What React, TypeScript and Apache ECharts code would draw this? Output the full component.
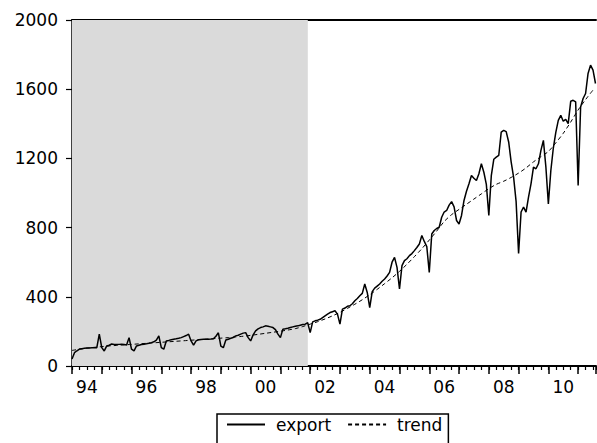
import React, { useEffect, useRef } from "react";
import * as echarts from "echarts";

// Monthly exports, 1994M1 .. 2011M8
const START_YEAR = 1994;
const EXPORT_1994_1997 = [
  40, 77, 88, 98, 100, 102, 104, 104, 105, 106, 106, 184,
  106, 87, 116, 120, 127, 125, 124, 125, 126, 124, 122, 164,
  97, 87, 116, 120, 124, 126, 128, 131, 135, 140, 150, 174,
  106, 97, 145, 148, 152, 155, 157, 160, 164, 170, 176, 184,
];
const EXPORT_1998_2001 = [
  145, 120, 145, 152, 153, 154, 155, 155, 156, 158, 172, 192,
  115, 106, 150, 155, 160, 165, 174, 178, 184, 190, 193, 164,
  145, 180, 203, 215, 222, 226, 232, 230, 226, 222, 210, 184,
  164, 213, 215, 218, 222, 226, 230, 232, 236, 240, 242, 250,
];
const EXPORT_2002_2005 = [
  193, 255, 261, 265, 270, 280, 290, 300, 309, 314, 319, 300,
  242, 329, 335, 345, 348, 360, 377, 390, 406, 420, 474, 425,
  338, 430, 450, 462, 474, 490, 503, 520, 541, 600, 628, 570,
  445, 580, 609, 620, 638, 650, 667, 685, 705, 754, 720, 690,
];
const EXPORT_2006_2009 = [
  541, 763, 783, 795, 802, 860, 890, 899, 930, 950, 920, 841,
  821, 870, 957, 1010, 1053, 1101, 1085, 1072, 1111, 1169, 1120, 1050,
  870, 1100, 1195, 1207, 1217, 1352, 1362, 1355, 1295, 1180, 1090, 950,
  650, 890, 918, 889, 976, 1053, 1150, 1140, 1169, 1246, 1304, 1150,
];
const EXPORT_2010_2011 = [
  937, 1130, 1260, 1350, 1420, 1449, 1415, 1425, 1401, 1530, 1536, 1527,
  1043, 1497, 1546, 1575, 1691, 1739, 1710, 1633,
];
const EXPORT = [
  ...EXPORT_1994_1997,
  ...EXPORT_1998_2001,
  ...EXPORT_2002_2005,
  ...EXPORT_2006_2009,
  ...EXPORT_2010_2011,
];

// Trend, read at quarter starts, 1994Q1 .. 2011Q3
const TREND_Q = [
  90, 97, 103, 108,
  112, 116, 119, 122,
  125, 128, 131, 134,
  137, 140, 143, 146,
  149, 152, 155, 158,
  161, 164, 168, 172,
  177, 183, 189, 195,
  201, 208, 216, 228,
  242, 256, 272, 290,
  310, 333, 357, 383,
  412, 443, 476, 510,
  547, 588, 632, 678,
  728, 780, 835, 875,
  905, 935, 965, 995,
  1025, 1050, 1068, 1090,
  1115, 1145, 1180, 1210,
  1240, 1290, 1345, 1410,
  1480, 1540, 1595,
];

const SHADE_RANGE = [1994, 2001.92];
const X_MIN = 1994;
const X_MAX = 2011.6;
const Y_MIN = 0;
const Y_MAX = 2000;
const Y_STEP = 400;

const FONT = "DejaVu Sans";

export default function App() {
  const ref = useRef<HTMLDivElement>(null);

  useEffect(() => {
    if (!ref.current) return;
    const chart = echarts.init(ref.current, undefined, { renderer: "svg" });

    const exportData = EXPORT.map((v, i) => [START_YEAR + i / 12, v]);
    const trendData = TREND_Q.map((v, i) => [START_YEAR + i / 4, v]);

    const black = "#000";
    const baseX = {
      type: "value" as const,
      min: X_MIN,
      max: X_MAX,
      splitLine: { show: false },
    };

    chart.setOption({
      animation: false,
      textStyle: { fontFamily: FONT },
      grid: { left: 72, right: 1, top: 20, bottom: 77, containLabel: false },
      xAxis: [
        {
          ...baseX,
          position: "bottom",
          interval: 0.25,
          axisLine: { show: true, lineStyle: { color: black, width: 2 } },
          axisTick: { show: true, length: 4, lineStyle: { color: black, width: 1.2 } },
          axisLabel: { show: false },
        },
        {
          ...baseX,
          position: "bottom",
          interval: 1,
          axisLine: { show: false },
          axisTick: { show: true, length: 8, lineStyle: { color: black, width: 1.5 } },
          axisLabel: { show: false },
        },
        {
          ...baseX,
          position: "bottom",
          interval: 0.5,
          axisLine: { show: false },
          axisTick: { show: false },
          axisLabel: {
            show: true,
            margin: 12,
            fontSize: 17,
            color: black,
            fontFamily: FONT,
            showMinLabel: false,
            showMaxLabel: false,
            formatter: (v: number) => {
              const r = v - 2 * Math.floor(v / 2);
              if (Math.abs(r - 0.5) < 1e-6) {
                return String(Math.floor(v) % 100).padStart(2, "0");
              }
              return "";
            },
          },
        },
        {
          ...baseX,
          position: "top",
          axisLine: { show: true, lineStyle: { color: black, width: 2 } },
          axisTick: { show: false },
          axisLabel: { show: false },
        },
      ],
      yAxis: {
        type: "value",
        min: Y_MIN,
        max: Y_MAX,
        interval: Y_STEP,
        axisLine: { show: true, lineStyle: { color: black, width: 1.5 } },
        axisTick: { show: true, length: 6, lineStyle: { color: black, width: 1.2 } },
        axisLabel: {
          margin: 14,
          fontSize: 17,
          color: black,
          fontFamily: FONT,
          formatter: (v: number) => String(v),
        },
        splitLine: { show: false },
      },
      legend: {
        left: 217,
        top: 414,
        orient: "horizontal",
        itemWidth: 38,
        itemHeight: 14,
        itemGap: 16,
        padding: [2, 6, 20, 9],
        borderColor: black,
        borderWidth: 1.5,
        itemStyle: { opacity: 0 },
        textStyle: { fontSize: 17, color: black, fontFamily: FONT, padding: [0, 0, 0, 6] },
        data: ["export", "trend"],
      },
      series: [
        {
          name: "export",
          type: "line",
          xAxisIndex: 0,
          data: exportData,
          symbol: "none",
          lineStyle: { color: black, width: 1.5 },
          itemStyle: { color: black },
          markArea: {
            silent: true,
            itemStyle: { color: "#dadada" },
            data: [[{ xAxis: SHADE_RANGE[0] }, { xAxis: SHADE_RANGE[1] }]],
          },
          z: 3,
        },
        {
          name: "trend",
          type: "line",
          xAxisIndex: 0,
          data: trendData,
          symbol: "none",
          smooth: 0.3,
          lineStyle: { color: black, width: 1, type: [4, 3] },
          itemStyle: { color: black },
          z: 2,
        },
      ],
    });

    return () => chart.dispose();
  }, []);

  return (
    <div
      ref={ref}
      style={{ position: "fixed", left: 0, top: 0, width: 597, height: 443, background: "#fff" }}
    />
  );
}
